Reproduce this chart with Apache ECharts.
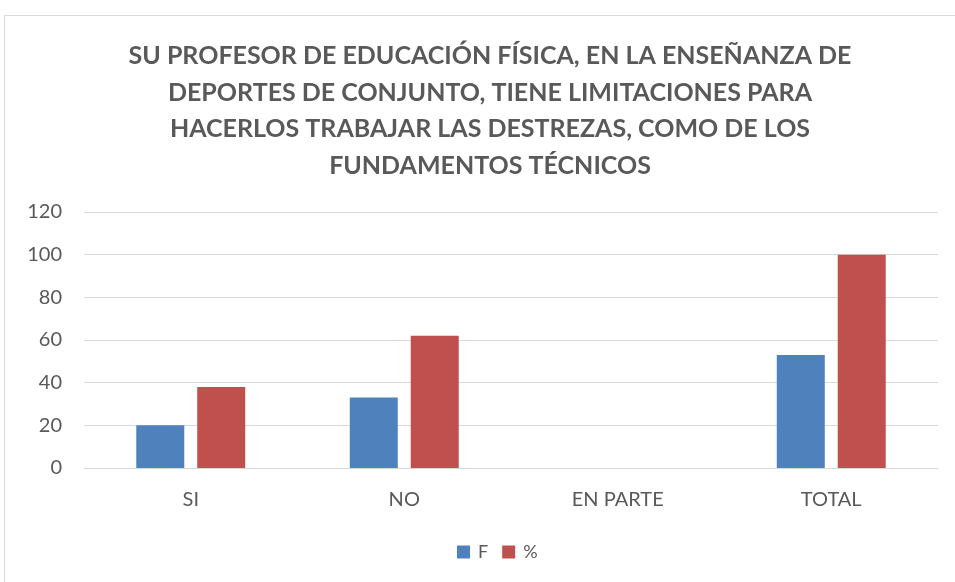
<!DOCTYPE html>
<html>
<head>
<meta charset="utf-8">
<script src="https://cdn.jsdelivr.net/npm/echarts@6/dist/echarts.min.js"></script>
<style>
  html, body { margin: 0; padding: 0; background: #fff; }
  #chart { width: 955px; height: 582px; }
</style>
</head>
<body>
<div id="chart"></div>
<script>
  // datos
  const categorias = ['SI', 'NO', 'EN PARTE', 'TOTAL']
  const valoresF = [20, 33, 0, 53]
  const valoresPct = [38, 62, 0, 100]
  const titulo = 'SU PROFESOR DE EDUCACIÓN FÍSICA, EN LA ENSEÑANZA DE\nDEPORTES DE CONJUNTO, TIENE LIMITACIONES PARA\nHACERLOS TRABAJAR LAS DESTREZAS, COMO DE LOS\nFUNDAMENTOS TÉCNICOS'

  const chart = echarts.init(document.getElementById('chart'))
  const fuente = 'Lato, "Open Sans", sans-serif'

  const option = {
    backgroundColor: '#fff',
    animation: false,
    graphic: [{
      type: 'rect',
      shape: { x: 4.5, y: 15.5, width: 960, height: 600 },
      style: { fill: 'none', stroke: '#d9d9d9', lineWidth: 1 }
    }],
    title: {
      text: titulo,
      left: 485,
      textAlign: 'center',
      top: 33,
      textStyle: {
        fontFamily: fuente,
        fontSize: 25,
        fontWeight: 'bold',
        color: '#595959',
        lineHeight: 36.5
      }
    },
    legend: {
      bottom: 16,
      left: 452,
      itemWidth: 13,
      itemHeight: 13,
      itemGap: 14,
      icon: 'rect',
      textStyle: { fontFamily: fuente, fontSize: 18, color: '#595959', padding: [0, 0, 0, 3] },
      data: ['F', '%']
    },
    grid: { left: 84, right: 17, top: 212, bottom: 114, containLabel: false },
    xAxis: {
      type: 'category',
      data: categorias,
      axisLine: { lineStyle: { color: '#d9d9d9', width: 1 } },
      axisTick: { show: false },
      axisLabel: { fontFamily: fuente, fontSize: 20, color: '#595959', margin: 22 }
    },
    yAxis: {
      type: 'value',
      min: 0,
      max: 120,
      interval: 20,
      axisLine: { show: false },
      axisTick: { show: false },
      splitLine: { lineStyle: { color: '#d9d9d9', width: 1 } },
      axisLabel: { fontFamily: fuente, fontSize: 20, color: '#595959', margin: 22 }
    },
    series: [
      {
        name: 'F',
        type: 'bar',
        data: valoresF,
        barWidth: 48,
        barGap: '27%',
        itemStyle: { color: '#4f81bd' }
      },
      {
        name: '%',
        type: 'bar',
        data: valoresPct,
        barWidth: 48,
        itemStyle: { color: '#c0504d' }
      }
    ]
  }

  chart.setOption(option)
</script>
</body>
</html>
